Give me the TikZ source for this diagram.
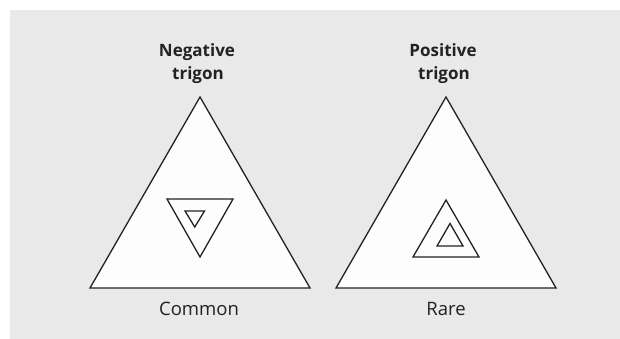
\documentclass[tikz,border=0pt]{standalone}
\usepackage{fontspec}
\setmainfont{Open Sans}
\definecolor{bg}{HTML}{E9E9E9}
\definecolor{ink}{HTML}{222222}
\definecolor{paper}{HTML}{FDFDFD}
\tikzset{
  tri/.style={draw=ink, line width=1.3pt, fill=paper, line join=miter},
  small/.style={draw=ink, line width=1.3pt, fill=none},
  title/.style={font=\fontsize{17}{20}\selectfont\bfseries, text=ink, anchor=base, inner sep=0pt},
  caption/.style={font=\fontsize{18.5}{22}\selectfont, text=ink, anchor=base, inner sep=0pt}
}
\begin{document}
\begin{tikzpicture}[x=1pt,y=-1pt]
\useasboundingbox (0,0) rectangle (620,339);
\fill[bg] (10,10) rectangle (620,339);
% left
\draw[tri] (90,288) -- (310,288) -- (200,97) -- cycle;
\draw[small] (167,199) -- (233,199) -- (200,257) -- cycle;
\draw[small] (185,211) -- (204.5,211) -- (194.75,227) -- cycle;
% right
\draw[tri] (336,288) -- (556,288) -- (446,97) -- cycle;
\draw[small] (413,257) -- (479,257) -- (446,200) -- cycle;
\draw[small] (437,246) -- (463,246) -- (450,223.5) -- cycle;
% texts
\node[title] (neg1) at (197,57) {Negative};
\node[title] (neg2) at (198,80) {trigon};
\node[title] (pos1) at (443,57) {Positive};
\node[title] (pos2) at (444,80) {trigon};
\node[caption] (com) at (199,315) {Common};
\node[caption] (rare) at (446,315) {Rare};
\end{tikzpicture}
\end{document}
